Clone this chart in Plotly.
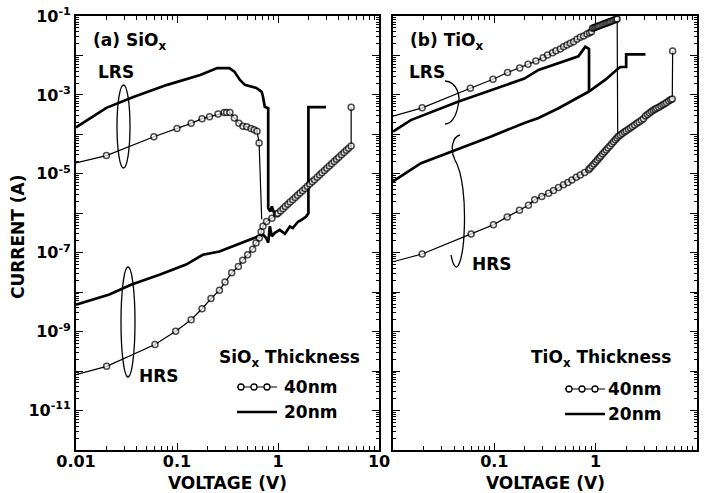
import plotly.graph_objects as go

# ---------------- data ----------------
# (a) SiOx, 40 nm, LRS sweep
si40_lrs_v = [0.01, 0.02, 0.059, 0.1, 0.138, 0.177, 0.21, 0.255, 0.293, 0.31, 0.334, 0.37, 0.41, 0.45,
              0.49, 0.54, 0.58, 0.62, 0.65, 0.69]
si40_lrs_i = [1.9e-5, 2.9e-5, 8.7e-5, 1.4e-4, 1.9e-4, 2.5e-4, 2.8e-4, 3.3e-4, 3.6e-4, 3.6e-4, 3.6e-4,
              2.6e-4, 1.9e-4, 1.6e-4, 1.55e-4, 1.4e-4, 1.3e-4, 1.2e-4, 6e-5, 7e-7]
# (a) SiOx, 40 nm, HRS sweep
si40_hrs_v = [0.01, 0.0201, 0.0605, 0.097, 0.138, 0.177, 0.217, 0.263, 0.299, 0.348, 0.405, 0.447,
              0.501, 0.562, 0.606, 0.653, 0.68, 0.71, 0.77, 0.87, 0.97,
              1.0, 1.06, 1.12, 1.18, 1.25, 1.32, 1.4, 1.48, 1.56, 1.65, 1.75, 1.85, 1.95, 2.06, 2.18,
              2.3, 2.44, 2.58, 2.72, 2.88, 3.04, 3.22, 3.4, 3.6, 3.8, 4.0, 4.25, 4.5, 4.75, 5.0, 5.3, 5.3]
si40_hrs_i = [8.1e-11, 1.32e-10, 4.7e-10, 1.02e-9, 2e-9, 3.8e-9, 6.9e-9, 1.12e-8, 1.8e-8, 3.1e-8,
              4.5e-8, 6.4e-8, 8.9e-8, 1.23e-7, 1.77e-7, 2.35e-7, 3.4e-7, 4.7e-7, 6.2e-7, 7.5e-7, 9.6e-7,
              1.0e-6, 1.15e-6, 1.31e-6, 1.48e-6, 1.69e-6, 1.93e-6, 2.21e-6, 2.52e-6, 2.86e-6, 3.26e-6,
              3.74e-6, 4.27e-6, 4.83e-6, 5.5e-6, 6.3e-6, 7.1e-6, 8.2e-6, 9.4e-6, 1.06e-5, 1.21e-5,
              1.38e-5, 1.58e-5, 1.8e-5, 2.06e-5, 2.33e-5, 2.64e-5, 3.04e-5, 3.48e-5, 3.95e-5, 4.47e-5,
              5.1e-5, 4.9e-4]
# (a) SiOx, 20 nm, LRS sweep
si20_lrs_v = [0.01, 0.02, 0.037, 0.08, 0.17, 0.25, 0.33, 0.37, 0.42, 0.47, 0.61, 0.69, 0.71, 0.74,
              0.80, 0.80, 0.84, 0.87, 0.93]
si20_lrs_i = [1.5e-4, 4.7e-4, 8.9e-4, 1.8e-3, 3.2e-3, 4.8e-3, 4.8e-3, 3.9e-3, 2.4e-3, 1.8e-3, 1.5e-3,
              1.2e-3, 9e-4, 5e-4, 4.6e-4, 1.35e-6, 1.1e-6, 1.5e-6, 9e-7]
# (a) SiOx, 20 nm, HRS sweep
si20_hrs_v = [0.01, 0.0214, 0.035, 0.067, 0.123, 0.18, 0.263, 0.384, 0.56, 0.71, 0.76, 0.80, 0.83,
              0.87, 0.93, 1.04, 1.17, 1.31, 1.4, 1.58, 1.71, 1.9, 2.0, 2.0, 2.98]
si20_hrs_i = [4.8e-9, 8.7e-9, 1.55e-8, 2.75e-8, 5e-8, 8.9e-8, 1.07e-7, 1.58e-7, 2.34e-7, 2.9e-7,
              2.4e-7, 1.8e-7, 4.7e-7, 2.6e-7, 3.2e-7, 3.8e-7, 3e-7, 4.6e-7, 4.2e-7, 6.1e-7, 6.8e-7,
              8.3e-7, 1.0e-6, 4.9e-4, 4.9e-4]

# (b) TiOx, 40 nm, LRS sweep
ti40_lrs_v = [0.01, 0.0194, 0.058, 0.097, 0.135, 0.178, 0.215, 0.257, 0.303, 0.335, 0.375, 0.405,
              0.447, 0.482, 0.52, 0.561, 0.605, 0.653, 0.705, 0.76, 0.82, 0.87, 0.91,
              0.93, 0.96, 0.99, 1.02, 1.05, 1.08, 1.12, 1.16, 1.2, 1.24, 1.28, 1.32, 1.36, 1.4, 1.45,
              1.5, 1.55, 1.6, 1.63, 1.65]
ti40_lrs_i = [2.9e-4, 4.7e-4, 1.48e-3, 2.5e-3, 3.7e-3, 4.8e-3, 6e-3, 7.2e-3, 8.8e-3, 1.02e-2, 1.17e-2,
              1.32e-2, 1.46e-2, 1.67e-2, 1.85e-2, 2.03e-2, 2.24e-2, 2.56e-2, 2.88e-2, 3.12e-2, 3.5e-2,
              3.75e-2, 4.0e-2,
              4.9e-2, 5.05e-2, 5.2e-2, 5.36e-2, 5.51e-2, 5.66e-2, 5.86e-2, 6.07e-2, 6.27e-2, 6.47e-2,
              6.67e-2, 6.87e-2, 7.08e-2, 7.28e-2, 7.52e-2, 7.78e-2, 8.02e-2, 8.27e-2, 8.42e-2, 9.5e-5]
# (b) TiOx, 40 nm, HRS sweep
ti40_hrs_v = [0.01, 0.0194, 0.059, 0.098, 0.134, 0.177, 0.217, 0.25, 0.294, 0.343, 0.384, 0.43,
              0.482, 0.532, 0.583, 0.644, 0.705, 0.778, 0.853,
              0.88, 0.92, 0.96, 1.0, 1.04, 1.08, 1.12, 1.17, 1.22, 1.27, 1.32, 1.38, 1.44, 1.5, 1.56,
              1.62, 1.68, 1.75, 1.83, 1.92, 2.0, 2.1, 2.2, 2.3, 2.42, 2.55, 2.68, 2.82, 2.96, 3.1,
              3.25, 3.4, 3.55, 3.7, 3.85, 4.0, 4.2, 4.4, 4.6, 4.8, 5.0, 5.25, 5.5, 5.7, 5.75]
ti40_hrs_i = [5.9e-8, 9.3e-8, 3e-7, 5.1e-7, 8.1e-7, 1.2e-6, 1.6e-6, 2.2e-6, 2.67e-6, 3.24e-6, 3.78e-6,
              4.5e-6, 5.3e-6, 6.0e-6, 7.0e-6, 8.2e-6, 9.4e-6, 1.08e-5, 1.26e-5,
              1.38e-5, 1.57e-5, 1.77e-5, 2.0e-5, 2.24e-5, 2.5e-5, 2.78e-5, 3.16e-5, 3.57e-5, 4.0e-5,
              4.5e-5, 5.1e-5, 5.8e-5, 6.5e-5, 7.3e-5, 8.1e-5, 9.0e-5, 9.7e-5, 1.05e-4, 1.15e-4,
              1.23e-4, 1.34e-4, 1.46e-4, 1.58e-4, 1.73e-4, 1.9e-4, 2.07e-4, 2.27e-4, 2.48e-4, 2.9e-4,
              3.2e-4, 3.5e-4, 3.8e-4, 4.1e-4, 4.3e-4, 4.6e-4, 4.9e-4, 5.2e-4, 5.6e-4, 6.0e-4, 6.4e-4,
              7.0e-4, 7.5e-4, 7.9e-4, 1.3e-2]
# (b) TiOx, 20 nm, LRS sweep
ti20_lrs_v = [0.01, 0.015, 0.0437, 0.093, 0.198, 0.273, 0.43, 0.63, 0.676, 0.73, 0.79, 0.85, 0.86, 0.86]
ti20_lrs_i = [1.18e-4, 2.3e-4, 6.7e-4, 1.32e-3, 2.6e-3, 4.3e-3, 6.3e-3, 9e-3, 9.5e-3, 1.25e-2, 1.67e-2,
              1.5e-2, 1.45e-2, 1.2e-3]
# (b) TiOx, 20 nm, HRS sweep
ti20_hrs_v = [0.01, 0.0189, 0.093, 0.198, 0.273, 0.43, 0.85, 1.24, 1.69, 1.75, 2.0, 2.0, 3.1]
ti20_hrs_i = [6.4e-6, 1.86e-5, 8.8e-5, 1.95e-4, 2.6e-4, 4.6e-4, 1.2e-3, 2.4e-3, 4.8e-3, 5.1e-3, 5.1e-3,
              1.07e-2, 1.07e-2]

# tick labels
x_tick_vals = [0.01, 0.1, 1, 10]
x_tick_text_a = ["0.01", "0.1", "1", "10"]
x_tick_text_b = ["", "0.1", "1", "10"]
y_exponents = list(range(-12, 0))
y_tick_vals = [10.0 ** e for e in y_exponents]
y_tick_text = [("10<sup>%d</sup>" % e) if e % 2 else "" for e in y_exponents]

# ---------------- layout helpers ----------------
W, H = 707, 493
ML, MR, MT, MB = 76, 10, 16, 43
PW = W - ML - MR
PH = H - MT - MB


def px(x):
    return (x - ML) / PW


def py(y):
    return (H - MB - y) / PH


FONT = "DejaVu Sans"
x_minor = [m * 10.0 ** e for e in range(-2, 1) for m in range(2, 10)]
y_minor = [m * 10.0 ** e for e in range(-12, -1) for m in range(2, 10)]

fig = go.Figure()


def add_curve(v, i, xa, ya, name, markers):
    if markers:
        sizes = [6] * len(v)
        sizes[0] = 0
        if name.endswith("drop"):
            sizes[-1] = 0
        fig.add_trace(go.Scatter(
            x=v, y=i, xaxis=xa, yaxis=ya, name=name, mode="lines+markers", showlegend=False,
            line=dict(color="black", width=1.2),
            marker=dict(symbol="circle", size=sizes, color="white", line=dict(color="black", width=1.5))))
    else:
        fig.add_trace(go.Scatter(
            x=v, y=i, xaxis=xa, yaxis=ya, name=name, mode="lines", showlegend=False,
            line=dict(color="black", width=2.7)))


add_curve(si20_lrs_v, si20_lrs_i, "x", "y", "SiOx 20nm LRS", False)
add_curve(si20_hrs_v, si20_hrs_i, "x", "y", "SiOx 20nm HRS", False)
add_curve(si40_lrs_v, si40_lrs_i, "x", "y", "SiOx 40nm LRS drop", True)
add_curve(si40_hrs_v, si40_hrs_i, "x", "y", "SiOx 40nm HRS", True)
add_curve(ti20_lrs_v, ti20_lrs_i, "x2", "y2", "TiOx 20nm LRS", False)
add_curve(ti20_hrs_v, ti20_hrs_i, "x2", "y2", "TiOx 20nm HRS", False)
add_curve(ti40_lrs_v, ti40_lrs_i, "x2", "y2", "TiOx 40nm LRS drop", True)
add_curve(ti40_hrs_v, ti40_hrs_i, "x2", "y2", "TiOx 40nm HRS", True)

tickfont = dict(family=FONT, size=16, color="black", weight="bold")
common_x = dict(type="log", range=[-2, 1], showgrid=False, zeroline=False, showline=True,
                linecolor="black", linewidth=1.8, mirror="ticks", ticks="inside", ticklen=7,
                tickwidth=1.3, tickcolor="black", tickmode="array", tickvals=x_tick_vals,
                tickfont=tickfont, automargin=False, ticklabelstandoff=-4,
                minor=dict(tickmode="array", tickvals=x_minor, ticks="inside", ticklen=4,
                           tickwidth=1, tickcolor="black", showgrid=False))
common_y = dict(type="log", range=[-12, -1], showgrid=False, zeroline=False, showline=True,
                linecolor="black", linewidth=1.8, mirror="ticks", ticks="inside", ticklen=7,
                tickwidth=1.3, tickcolor="black", tickmode="array", tickvals=y_tick_vals,
                tickfont=tickfont, automargin=False,
                minor=dict(tickmode="array", tickvals=y_minor, ticks="inside", ticklen=3.5,
                           tickwidth=1, tickcolor="black", showgrid=False))

fig.update_layout(
    width=W, height=H, template="none",
    margin=dict(l=ML, r=MR, t=MT, b=MB, pad=0),
    paper_bgcolor="white", plot_bgcolor="white", showlegend=False,
    xaxis=dict(common_x, domain=[0, px(379)], anchor="y", ticktext=x_tick_text_a),
    yaxis=dict(common_y, domain=[0, 1], anchor="x", ticktext=y_tick_text),
    xaxis2=dict(common_x, domain=[px(393), 1], anchor="y2", ticktext=x_tick_text_b),
    yaxis2=dict(common_y, domain=[0, 1], anchor="x2", showticklabels=False, ticktext=y_tick_text),
)

ann = []


def text(x, y, s, size=17, xanchor="center", yanchor="middle", angle=0):
    ann.append(dict(x=px(x), y=py(y), xref="paper", yref="paper", text=s, showarrow=False,
                    xanchor=xanchor, yanchor=yanchor, textangle=angle,
                    font=dict(family=FONT, size=size, color="black", weight="bold")))


text(227, 483, "VOLTAGE (V)")
text(545, 483, "VOLTAGE (V)")
text(18, 237, "CURRENT (A)", angle=-90)
text(91, 41, "(a) SiO<sub>x</sub>", xanchor="left")
text(408, 41, "(b) TiO<sub>x</sub>", xanchor="left")
text(116, 72, "LRS")
text(159, 376, "HRS")
text(427, 72, "LRS")
text(492, 264, "HRS")
text(217, 358, "SiO<sub>x</sub> Thickness", xanchor="left")
text(529, 358, "TiO<sub>x</sub> Thickness", xanchor="left")
text(282, 387, "40nm", xanchor="left")
text(282, 412, "20nm", xanchor="left")
text(606, 389, "40nm", xanchor="left")
text(606, 414, "20nm", xanchor="left")
fig.update_layout(annotations=ann)

shapes = []


def pth(points):
    s = ""
    for cmd, pts in points:
        s += cmd + " " + " ".join("%.5f,%.5f" % (px(a), py(b)) for a, b in pts) + " "
    return s.strip()


def ellipse(x0, y0, x1, y1):
    shapes.append(dict(type="circle", xref="paper", yref="paper", x0=px(x0), x1=px(x1),
                       y0=py(y1), y1=py(y0), line=dict(color="black", width=1.3)))


ellipse(117, 85, 130, 168)
ellipse(121, 267, 135, 377)
shapes.append(dict(type="path", xref="paper", yref="paper", line=dict(color="black", width=1.3),
                   path=pth([("M", [(445, 81)]), ("C", [(457, 82), (461, 96), (458, 106)]),
                             ("C", [(456, 117), (451, 124), (445, 124)])])))
shapes.append(dict(type="path", xref="paper", yref="paper", line=dict(color="black", width=1.3),
                   path=pth([("M", [(460, 135)]), ("C", [(452, 137), (450, 150), (455, 160)]),
                             ("C", [(462, 172), (466, 200), (464, 235)]),
                             ("C", [(463, 255), (459, 268), (456, 267)]),
                             ("C", [(453, 266), (452, 260), (451, 255)])])))


def legend_sample(x0, x1, y, circles):
    shapes.append(dict(type="line", xref="paper", yref="paper", x0=px(x0), x1=px(x1), y0=py(y),
                       y1=py(y), line=dict(color="black", width=1.2 if circles else 2.7)))
    for c in circles:
        shapes.append(dict(type="circle", xref="paper", yref="paper", xsizemode="pixel",
                           ysizemode="pixel", xanchor=px(c), yanchor=py(y), x0=-3, x1=3, y0=-3, y1=3,
                           fillcolor="white", line=dict(color="black", width=1.3)))


legend_sample(237, 277, 387, [241, 254, 267])
legend_sample(237, 277, 412, [])
legend_sample(565, 605, 389, [569, 582, 595])
legend_sample(565, 605, 414, [])
fig.update_layout(shapes=shapes)

fig.write_html("out.html")
